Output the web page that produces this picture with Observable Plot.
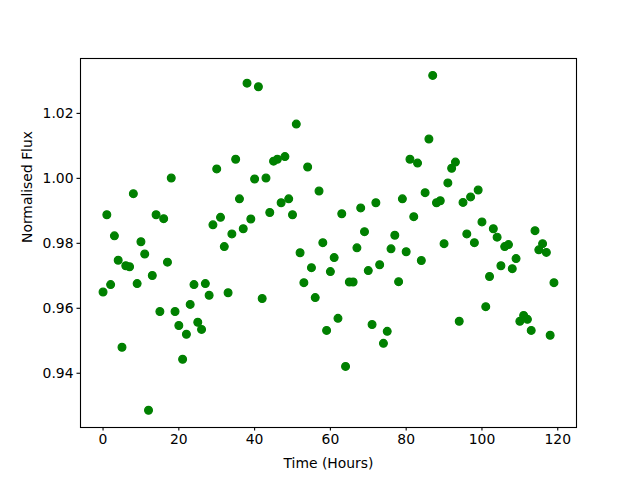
<!DOCTYPE html>
<html><head><meta charset="utf-8">
<script src="https://cdn.jsdelivr.net/npm/d3@7"></script>
<script src="https://cdn.jsdelivr.net/npm/@observablehq/plot@0.6"></script>
<style>body{margin:0;background:#fff}</style>
</head><body><div id="chart"></div>
<script>
const hours = [
  0,1,2,3,4,5,6,7,8,9,10,11,12,13,14,15,16,17,18,19,
  20,21,22,23,24,25,26,27,28,29,30,31,32,33,34,35,36,37,38,39,
  40,41,42,43,44,45,46,47,48,49,50,51,52,53,54,55,56,57,58,59,
  60,61,62,63,64,65,66,67,68,69,70,71,72,73,74,75,76,77,78,79,
  80,81,82,83,84,85,86,87,88,89,90,91,92,93,94,95,96,97,98,99,
  100,101,102,103,104,105,106,107,108,109,110,111,112,113,114,115,116,117,118,119
];
const flux = [
  0.9650,0.9888,0.9673,0.9823,0.9748,0.9480,0.9731,0.9728,0.9953,0.9676,
  0.9805,0.9767,0.9286,0.9701,0.9888,0.9590,0.9876,0.9742,1.0001,0.9590,
  0.9547,0.9443,0.9520,0.9612,0.9673,0.9557,0.9535,0.9676,0.9640,0.9857,
  1.0029,0.9880,0.9790,0.9648,0.9829,1.0059,0.9937,0.9845,1.0293,0.9875,
  0.9998,1.0282,0.9630,1.0001,0.9895,1.0053,1.0059,0.9925,1.0067,0.9937,
  0.9888,1.0167,0.9771,0.9679,1.0035,0.9725,0.9633,0.9961,0.9802,0.9532,
  0.9713,0.9756,0.9569,0.9891,0.9421,0.9681,0.9681,0.9786,0.9909,0.9836,
  0.9716,0.9550,0.9925,0.9734,0.9492,0.9529,0.9783,0.9825,0.9682,0.9937,
  0.9774,1.0059,0.9882,1.0047,0.9747,0.9956,1.0121,1.0317,0.9925,0.9931,
  0.9799,0.9986,1.0031,1.0050,0.9560,0.9926,0.9829,0.9943,0.9802,0.9964,
  0.9866,0.9605,0.9698,0.9845,0.9819,0.9731,0.9790,0.9796,0.9722,0.9753,
  0.9560,0.9578,0.9566,0.9532,0.9839,0.9780,0.9799,0.9772,0.9517,0.9679
];
const xTicks = [0,20,40,60,80,100,120];
const yTicks = [0.94,0.96,0.98,1.00,1.02];
const xLabel = "Time (Hours)";
const yLabel = "Normalised Flux";

const data = hours.map((h,i)=>({hour:h, flux:flux[i]}));

const chart = Plot.plot({
  width:640, height:480,
  marginLeft:80, marginRight:64, marginTop:58, marginBottom:53,
  style:{fontFamily:"DejaVu Sans", fontSize:"13.9px", color:"black", background:"white"},
  x:{domain:[-5.95,124.95]},
  y:{domain:[0.9233,1.0369]},
  marks:[
    Plot.dot(data, {x:"hour", y:"flux", r:3.9, fill:"green", stroke:"green", strokeWidth:1.2}),
    Plot.frame({stroke:"black", strokeWidth:1.1}),
    Plot.axisX(xTicks, {tickSize:3.5, tickPadding:3.5, strokeWidth:1.1, label:null, fontSize:13.9}),
    Plot.axisY(yTicks, {tickSize:3.5, tickPadding:3.5, strokeWidth:1.1, label:null, fontSize:13.9, tickFormat:d=>d.toFixed(2)}),
    Plot.text([xLabel], {frameAnchor:"bottom", dy:36, fontSize:13.9, fill:"black", lineAnchor:"middle"}),
    Plot.text([yLabel], {frameAnchor:"left", dx:-53, rotate:-90, fontSize:13.9, fill:"black", lineAnchor:"middle"})
  ]
});
document.getElementById("chart").appendChild(chart);
</script>
</body></html>
